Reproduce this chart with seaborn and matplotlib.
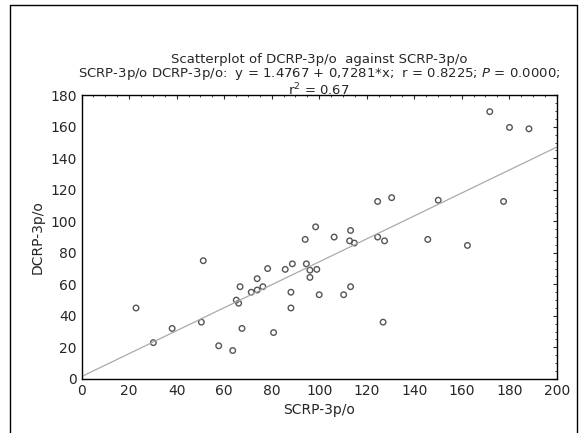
import numpy as np
import pandas as pd
import matplotlib
matplotlib.use('Agg')
import matplotlib.pyplot as plt
import seaborn as sns

sns.set_style("white")
plt.rcParams['font.family'] = ['DejaVu Sans']

scrp = [22.9, 30.2, 38.1, 50.4, 51.2, 57.7, 63.6, 65.1, 66.1, 66.7, 67.5, 71.4, 73.9, 73.9,
        76.3, 78.3, 80.8, 85.7, 88.1, 88.1, 88.7, 94.1, 94.6, 96.1, 96.1, 98.5, 99.0, 100.0,
        106.3, 110.3, 112.8, 113.2, 113.2, 114.8, 124.6, 124.6, 126.9, 127.5, 130.5, 145.7,
        150.1, 162.4, 171.8, 177.6, 180.1, 188.3]
dcrp = [45, 23, 32, 36, 75, 21, 18, 50, 48, 58.5, 32, 55, 56.4, 63.6,
        58.5, 70, 29.4, 69.5, 55, 45, 73, 88.5, 73, 69, 64.4, 96.5, 69.5, 53.4,
        90, 53.4, 87.6, 94.2, 58.5, 86.2, 112.6, 90, 36, 87.6, 115, 88.5,
        113.4, 84.7, 169.6, 112.6, 159.6, 158.7]
intercept, slope = 1.4767, 0.7281

df = pd.DataFrame({'SCRP-3p/o': scrp, 'DCRP-3p/o': dcrp})

fig = plt.figure(figsize=(5.83, 4.33), dpi=100)
ax = fig.add_axes([0.14, 0.125, 0.815, 0.655])
sns.scatterplot(data=df, x='SCRP-3p/o', y='DCRP-3p/o', ax=ax, s=16,
                facecolor='none', edgecolor='#555555', linewidth=1.0)
xl = np.array([0, 200])
ax.plot(xl, intercept + slope * xl, color='#aaaaaa', lw=0.9)
ax.set_xlim(0, 200)
ax.set_ylim(0, 180)
ax.set_xticks(range(0, 201, 20))
ax.set_yticks(range(0, 181, 20))
ax.minorticks_on()
ax.xaxis.set_minor_locator(matplotlib.ticker.MultipleLocator(5))
ax.yaxis.set_minor_locator(matplotlib.ticker.MultipleLocator(5))
ax.tick_params(which='both', direction='in', top=True, right=True, labelsize=10)
ax.tick_params(which='major', length=3)
ax.tick_params(which='minor', length=1.5)
for s in ax.spines.values():
    s.set_color('black')
    s.set_linewidth(1)
ax.set_xlabel('SCRP-3p/o', fontsize=10)
ax.set_ylabel('DCRP-3p/o', fontsize=10)
ax.set_title('Scatterplot of DCRP-3p/o  against SCRP-3p/o\n'
             'SCRP-3p/o DCRP-3p/o:  y = 1.4767 + 0,7281*x;  r = 0.8225; $P$ = 0.0000;\n'
             'r$^2$ = 0.67', fontsize=9.5, linespacing=1.0, pad=0)

# outer frame
fig.add_artist(plt.Line2D([0.017, 0.017], [0.0, 0.988], color='black', lw=1))
fig.add_artist(plt.Line2D([0.017, 0.99], [0.988, 0.988], color='black', lw=1))
fig.add_artist(plt.Line2D([0.99, 0.99], [0.0, 0.988], color='black', lw=1))

fig.savefig('out.png', dpi=100)
